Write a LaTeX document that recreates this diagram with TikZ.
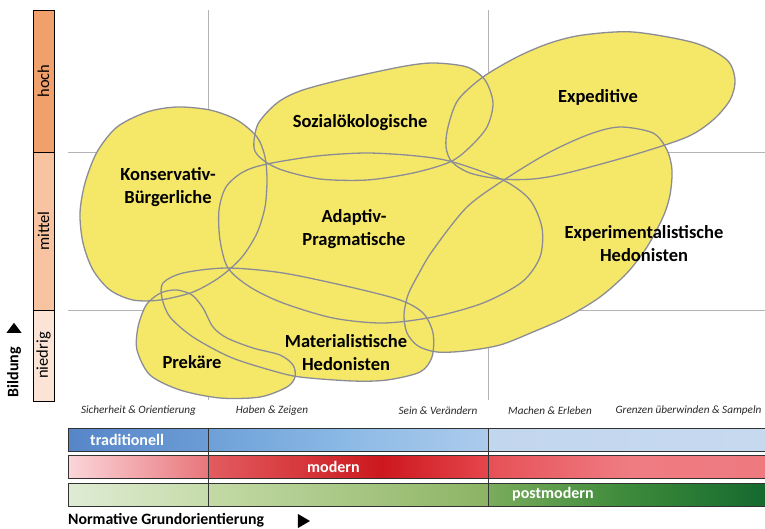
\documentclass[tikz,border=0pt]{standalone}
\usepackage{fontspec}
\setmainfont{Carlito}
\usetikzlibrary{shapes.geometric}

\definecolor{blobfill}{RGB}{245,232,104}
\definecolor{blobedge}{RGB}{140,140,150}
\definecolor{gridgrey}{RGB}{180,180,180}
\definecolor{labelgrey}{RGB}{40,40,40}
\definecolor{hochcol}{RGB}{240,160,106}
\definecolor{mittelcol}{RGB}{247,195,160}
\definecolor{niedrigcol}{RGB}{251,227,214}
\definecolor{modA}{RGB}{226,92,96}
\definecolor{modB}{RGB}{204,24,30}
\definecolor{modC}{RGB}{228,70,76}

\pgfdeclarehorizontalshading{modernmid}{100bp}{color(0bp)=(modA); color(25bp)=(modA); color(56bp)=(modB); color(75bp)=(modC); color(100bp)=(modC)}

\newcommand{\konservativ}{plot[smooth cycle] coordinates {(97,152) (117,127) (147,112) (177,107) (210,110) (237,120) (257,137) (265,157) (267,180) (265,207) (257,233) (242,257) (220,277) (193,292) (160,300) (133,300) (110,290) (93,270) (83,243) (80,213) (85,183)}}
\newcommand{\sozial}{plot[smooth cycle] coordinates {(254,148) (258,124) (277,103) (300,91) (340,80) (400,67) (433,63) (467,67) (485,80) (493,103) (487,127) (470,147) (450,162) (413,173) (367,180) (320,179) (282,170) (263,160)}}
\newcommand{\expeditiv}{plot[smooth cycle] coordinates {(633,32) (695,43) (727,60) (735,80) (730,100) (713,120) (687,137) (633,155) (567,173) (533,179) (500,179) (470,173) (452,162) (446,147) (448,127) (458,100) (483,77) (517,57) (550,43) (583,35)}}
\newcommand{\adaptiv}{plot[smooth cycle] coordinates {(243,172) (267,164) (317,156) (367,153) (417,156) (453,162) (503,180) (530,200) (542,228) (540,257) (522,282) (483,303) (433,317) (383,323) (333,318) (283,303) (250,287) (228,268) (220,240) (219,210) (226,187)}}
\newcommand{\materialist}{plot[smooth cycle] coordinates {(163,283) (183,273) (227,268) (283,273) (350,287) (400,300) (423,313) (433,333) (432,357) (420,372) (387,380) (353,381) (300,377) (270,370) (230,357) (193,337) (170,317) (162,298)}}
\newcommand{\prekaer}{plot[smooth cycle] coordinates {(163,292) (177,290) (192,295) (203,308) (213,327) (227,338) (253,348) (280,355) (293,365) (295,377) (287,387) (260,397) (220,398) (180,390) (150,375) (137,350) (138,327) (145,307) (153,298)}}
\newcommand{\experimental}{plot[smooth cycle] coordinates {(620,127) (653,133) (667,150) (672,170) (670,195) (663,217) (647,247) (627,273) (600,297) (567,317) (533,332) (500,345) (465,351) (437,352) (418,346) (407,333) (404,315) (408,295) (418,275) (433,250) (467,207) (507,178) (550,152) (590,134)}}

\begin{document}
\begin{tikzpicture}
    [
        x=1pt, y=-1pt,
        gridline/.style = {draw=gridgrey, line width=1pt},
        blob/.style = {fill=blobfill},
        blobline/.style = {draw=blobedge, line width=1.3pt},
        milieu/.style = {font=\fontsize{18.5}{23}\selectfont\bfseries, align=center, inner sep=0pt},
        level/.style = {draw=black, line width=0.6pt, rotate=90, minimum height=21pt, inner sep=0pt, font=\fontsize{16.5}{18}\selectfont},
        orient/.style = {font=\fontsize{11.2}{13}\selectfont\itshape, text=labelgrey, inner sep=0pt},
        barseg/.style = {draw=black!80, line width=0.6pt, minimum height=23pt, inner sep=0pt},
        barlabel/.style = {font=\fontsize{16}{18}\selectfont\bfseries, text=white, anchor=west, inner sep=0pt},
        pointer/.style = {isosceles triangle, isosceles triangle stretches, fill=black, inner sep=0pt},
    ]
    \useasboundingbox (0,0) rectangle (765,528);

    % Raster
    \draw[gridline] (208,10) -- (208,400);
    \draw[gridline] (488,10) -- (488,400);
    \draw[gridline] (68,152) -- (765,152);
    \draw[gridline] (68,310) -- (765,310);

    % Milieus: erst Flaechen, dann Raender
    \fill[blob] \konservativ;
    \fill[blob] \sozial;
    \fill[blob] \expeditiv;
    \fill[blob] \adaptiv;
    \fill[blob] \experimental;
    \fill[blob] \materialist;
    \fill[blob] \prekaer;

    \draw[blobline] \konservativ;
    \draw[blobline] \sozial;
    \draw[blobline] \expeditiv;
    \draw[blobline] \adaptiv;
    \draw[blobline] \experimental;
    \draw[blobline] \materialist;
    \draw[blobline] \prekaer;

    \node[milieu] (kons) at (168,187) {Konservativ-\\B\"urgerliche};
    \node[milieu] (sozi) at (360,123) {Sozial\"okologische};
    \node[milieu] (expe) at (598,97) {Expeditive};
    \node[milieu] (adap) at (354,229) {Adaptiv-\\Pragmatische};
    \node[milieu] (expx) at (644,244) {Experimentalistische\\Hedonisten};
    \node[milieu] (mate) at (346,353) {Materialistische\\Hedonisten};
    \node[milieu] (prek) at (192,362) {Prek\"are};

    % Bildungsachse
    \node[level, fill=hochcol, minimum width=142pt] (hoch) at (43.5,81) {hoch};
    \node[level, fill=mittelcol, minimum width=158pt] (mittel) at (43.5,231) {mittel};
    \node[level, fill=niedrigcol, minimum width=91pt] (niedrig) at (43.5,355.5) {niedrig};

    \node[rotate=90, font=\fontsize{16}{18}\selectfont\bfseries, inner sep=0pt] (bildung) at (14,372) {Bildung};
    \node[pointer, shape border rotate=90, minimum width=15pt, minimum height=10pt] (bildtip) at (14,329) {};

    % Grundorientierungen
    \node[orient] (sich) at (138.5,411) {Sicherheit \& Orientierung};
    \node[orient] (habe) at (272,411) {Haben \& Zeigen};
    \node[orient] (sein) at (438,411) {Sein \& Ver\"andern};
    \node[orient] (mach) at (550,411) {Machen \& Erleben};
    \node[orient] (gren) at (688.5,411) {Grenzen \"uberwinden \& Sampeln};

    \node[barseg, minimum width=140pt, left color={rgb,255:red,86;green,134;blue,200}, right color={rgb,255:red,108;green,156;blue,213}] (trad1) at (138,439.5) {};
    \node[barseg, minimum width=280pt, left color={rgb,255:red,110;green,160;blue,216}, right color={rgb,255:red,172;green,203;blue,236}, middle color={rgb,255:red,140;green,186;blue,230}] (trad2) at (348,439.5) {};
    \node[barseg, minimum width=282pt, left color={rgb,255:red,194;green,214;blue,238}, right color={rgb,255:red,198;green,217;blue,239}] (trad3) at (629,439.5) {};

    \node[barseg, minimum width=140pt, left color={rgb,255:red,251;green,214;blue,218}, right color={rgb,255:red,232;green,118;blue,123}] (mod1) at (138,466.5) {};
    \node[barseg, minimum width=280pt, shading=modernmid] (mod2) at (348,466.5) {};
    \node[barseg, minimum width=282pt, left color={rgb,255:red,230;green,80;blue,86}, right color={rgb,255:red,238;green,122;blue,128}, middle color={rgb,255:red,239;green,124;blue,130}] (mod3) at (629,466.5) {};

    \node[barseg, minimum width=140pt, left color={rgb,255:red,223;green,236;blue,212}, right color={rgb,255:red,198;green,220;blue,170}] (post1) at (138,494.5) {};
    \node[barseg, minimum width=280pt, left color={rgb,255:red,196;green,218;blue,166}, right color={rgb,255:red,140;green,180;blue,100}] (post2) at (348,494.5) {};
    \node[barseg, minimum width=282pt, left color={rgb,255:red,122;green,172;blue,92}, right color={rgb,255:red,20;green,104;blue,46}, middle color={rgb,255:red,60;green,138;blue,58}] (post3) at (629,494.5) {};

    \draw[black!80, line width=0.6pt] (trad1.north east) -- (post1.south east);
    \draw[black!80, line width=0.6pt] (trad2.north east) -- (post2.south east);

    \node[barlabel] (tradtext) at (90,439.5) {traditionell};
    \node[barlabel] (modtext) at (307,466.5) {modern};
    \node[barlabel] (posttext) at (512,494.5) {postmodern};

    \node[anchor=west, font=\fontsize{15.8}{18}\selectfont\bfseries, inner sep=0pt] (normativ) at (68,520) {Normative Grundorientierung};
    \node[pointer, minimum width=14pt, minimum height=12pt] (normtip) at (302,521) {};

\end{tikzpicture}
\end{document}
